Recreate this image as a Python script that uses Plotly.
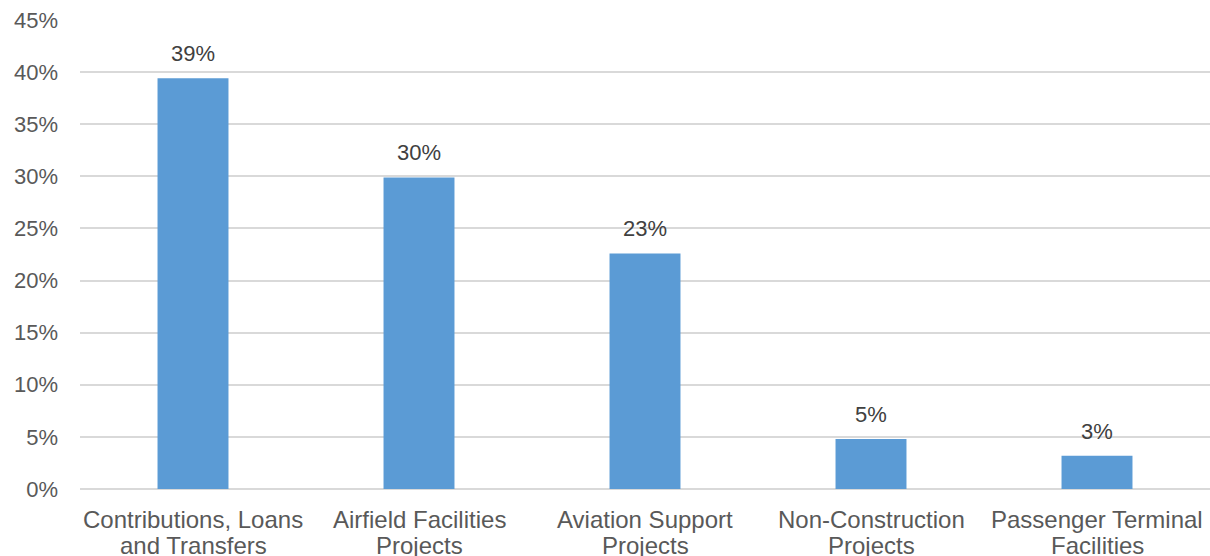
import plotly.graph_objects as go

categories = ["Contributions, Loans and Transfers", "Airfield Facilities Projects",
              "Aviation Support Projects", "Non-Construction Projects",
              "Passenger Terminal Facilities"]
label_line1 = ["Contributions, Loans", "Airfield Facilities", "Aviation Support",
               "Non-Construction", "Passenger Terminal"]
label_line2 = ["and Transfers", "Projects", "Projects", "Projects", "Facilities"]
values = [0.394, 0.299, 0.226, 0.048, 0.032]
tick_vals = [0, 0.05, 0.10, 0.15, 0.20, 0.25, 0.30, 0.35, 0.40, 0.45]
tick_text = ["0%", "5%", "10%", "15%", "20%", "25%", "30%", "35%", "40%", "45%"]

font_family = "Liberation Sans, Arial, sans-serif"
text_color = "#595959"

fig = go.Figure(go.Bar(
    x=categories, y=values,
    marker=dict(color="#5B9BD5", line=dict(width=0)),
    hoverinfo="skip",
))

annotations = []
for c, v in zip(categories, values):
    annotations.append(dict(x=c, y=v, xref="x", yref="y", text=f"{round(v * 100)}%",
                            showarrow=False, yanchor="bottom", yshift=10,
                            font=dict(family=font_family, size=22, color="#404040")))
for c, l1, l2 in zip(categories, label_line1, label_line2):
    annotations.append(dict(x=c, y=0, xref="x", yref="paper", text=l1,
                            showarrow=False, yanchor="middle", yshift=-30,
                            font=dict(family=font_family, size=24, color=text_color)))
    annotations.append(dict(x=c, y=0, xref="x", yref="paper", text=l2,
                            showarrow=False, yanchor="middle", yshift=-56,
                            font=dict(family=font_family, size=24, color=text_color)))

fig.update_layout(
    width=1210, height=556,
    margin=dict(l=80, r=0, t=20, b=67),
    paper_bgcolor="white", plot_bgcolor="white",
    bargap=0.686,
    showlegend=False,
    annotations=annotations,
    font=dict(family=font_family, size=22, color=text_color),
)
fig.update_yaxes(range=[0, 0.45], tickvals=tick_vals, ticktext=tick_text,
                 showgrid=True, gridcolor="#d9d9d9", gridwidth=1.5,
                 zeroline=True, zerolinecolor="#d9d9d9", zerolinewidth=1.5,
                 showline=False, ticks="", ticklabelstandoff=21,
                 tickfont=dict(family=font_family, size=22, color=text_color))
fig.update_xaxes(showgrid=False, showline=False, ticks="", showticklabels=False)

fig.write_html("out.html")
